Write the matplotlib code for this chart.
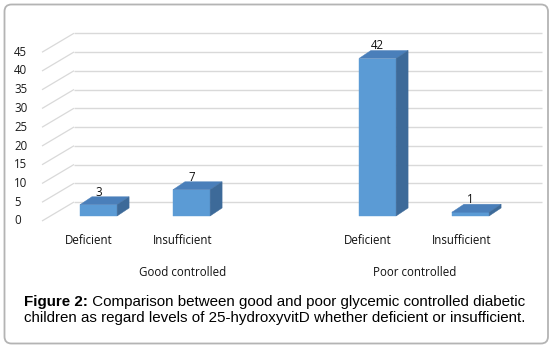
import matplotlib
matplotlib.use("Agg")
import matplotlib.pyplot as plt
from matplotlib.patches import Polygon, Rectangle, FancyBboxPatch
from matplotlib.transforms import IdentityTransform

# ---- data -------------------------------------------------------------
groups = ["Good controlled", "Poor controlled"]
levels = ["Deficient", "Insufficient"]
good_values = [3, 7]
poor_values = [42, 1]
y_ticks = [0, 5, 10, 15, 20, 25, 30, 35, 40, 45]
caption_bold = "Figure 2:"
caption_line1 = "Comparison between good and poor glycemic controlled diabetic"
caption_line2 = "children as regard levels of 25-hydroxyvitD whether deficient or insufficient."

# ---- layout (pixels of the 553x348 canvas) ------------------------------
W, H, DPI = 553, 348, 100
PX_CAT = 93.0      # pixels per category slot
PX_VAL = 3.75      # pixels per value unit
SLOT1_PX = 98.5    # x pixel of the first slot centre
ZERO_PX = 216.0    # y pixel (from top) of value 0 on the bar plane

def xd(px):
    return (px - SLOT1_PX) / PX_CAT + 1.0

def vd(py):
    return (ZERO_PX - py) / PX_VAL

BAR_W = 0.40
DEPTH_X = 12.0 / PX_CAT
DEPTH_V = 8.0 / PX_VAL

FRONT_SHIFT = vd(221)     # wall front edge relative to bar plane
BACK_SHIFT = vd(202)      # back wall relative to bar plane
WALL_FRONT_X = xd(42)
WALL_BACK_X = xd(74)
WALL_RIGHT_X = xd(542)

FRONT_C = "#5b9bd5"
TOP_C = "#4a7fba"
SIDE_C = "#3d6a99"
GRID_C = "#d9d9d9"

CHART_FONT = ["Open Sans", "DejaVu Sans"]
CAP_FONT = ["Liberation Sans", "DejaVu Sans"]
CHART_FS = 8.3
CAP_FS = 10.9

fig = plt.figure(figsize=(W / DPI, H / DPI), dpi=DPI)
fig.patch.set_facecolor("white")
ax = fig.add_axes([0, 0, 1, 1])
ax.set_xlim(xd(0), xd(W))
ax.set_ylim(vd(H), vd(0))
ax.axis("off")

# ---- walls and gridlines ---------------------------------------------
for t in y_ticks:
    yf = t + FRONT_SHIFT
    yb = t + BACK_SHIFT
    ax.plot([WALL_FRONT_X, WALL_BACK_X], [yf, yb], color=GRID_C, lw=0.9,
            solid_capstyle="butt", zorder=1)
    ax.plot([WALL_BACK_X, WALL_RIGHT_X], [yb, yb], color=GRID_C, lw=1.0,
            solid_capstyle="butt", zorder=1)
    ax.text(xd(14), yf, str(t), ha="left", va="center", fontsize=CHART_FS,
            family=CHART_FONT, color="#1a1a1a", zorder=3)

# ---- 3D bars -----------------------------------------------------------
slots = []
values = []
slot = 1
for gi, vals in enumerate([good_values, poor_values]):
    for v in vals:
        slots.append(slot)
        values.append(v)
        slot += 1
    if gi == 0:
        slot += 1   # empty slot between the two groups

for s, v in zip(slots, values):
    x0 = s - BAR_W / 2
    x1 = s + BAR_W / 2
    ax.add_patch(Rectangle((x0, 0), BAR_W, v, facecolor=FRONT_C,
                           edgecolor=FRONT_C, lw=0.3, zorder=4))
    ax.add_patch(Polygon([(x0, v), (x1, v), (x1 + DEPTH_X, v + DEPTH_V),
                          (x0 + DEPTH_X, v + DEPTH_V)], closed=True,
                         facecolor=TOP_C, edgecolor=TOP_C, lw=0.3, zorder=4))
    ax.add_patch(Polygon([(x1, 0), (x1 + DEPTH_X, DEPTH_V),
                          (x1 + DEPTH_X, v + DEPTH_V), (x1, v)], closed=True,
                         facecolor=SIDE_C, edgecolor=SIDE_C, lw=0.3, zorder=4))
    ax.text(s, v + DEPTH_V + 0.3, str(v), ha="center", va="baseline",
            fontsize=CHART_FS, family=CHART_FONT, color="#111111", zorder=5)

# ---- category labels -----------------------------------------------------
LABEL_SHIFT = -0.10
for s, lab in zip(slots, levels * 2):
    ax.text(s + LABEL_SHIFT, vd(240), lab, ha="center", va="center",
            fontsize=CHART_FS, family=CHART_FONT, color="#111111")

group_spans = [(1, 3), (4, 5)]
for (a, b), g in zip(group_spans, groups):
    ax.text((a + b) / 2 + LABEL_SHIFT, vd(272), g, ha="center", va="center",
            fontsize=CHART_FS, family=CHART_FONT, color="#111111")

# ---- caption -------------------------------------------------------------
cap_x = 24 / W
t_bold = fig.text(cap_x, 1 - 306 / H, caption_bold, ha="left", va="baseline",
                  fontsize=CAP_FS, fontweight="bold", family=CAP_FONT,
                  color="black")
ax.annotate(" " + caption_line1, xy=(1, 0), xycoords=t_bold, ha="left",
            va="bottom", fontsize=CAP_FS, family=CAP_FONT, color="black",
            annotation_clip=False)
fig.text(cap_x, 1 - 322 / H, caption_line2, ha="left", va="baseline",
         fontsize=CAP_FS, family=CAP_FONT, color="black")

# ---- outer frame ---------------------------------------------------------
frame = FancyBboxPatch((4.5, H - 343.5), 543.5, 339,
                       boxstyle="round,pad=0,rounding_size=7",
                       transform=IdentityTransform(), facecolor="none",
                       edgecolor="#b4b4b4", lw=1.3)
fig.patches.append(frame)

fig.savefig("out.png", dpi=DPI, facecolor="white")
